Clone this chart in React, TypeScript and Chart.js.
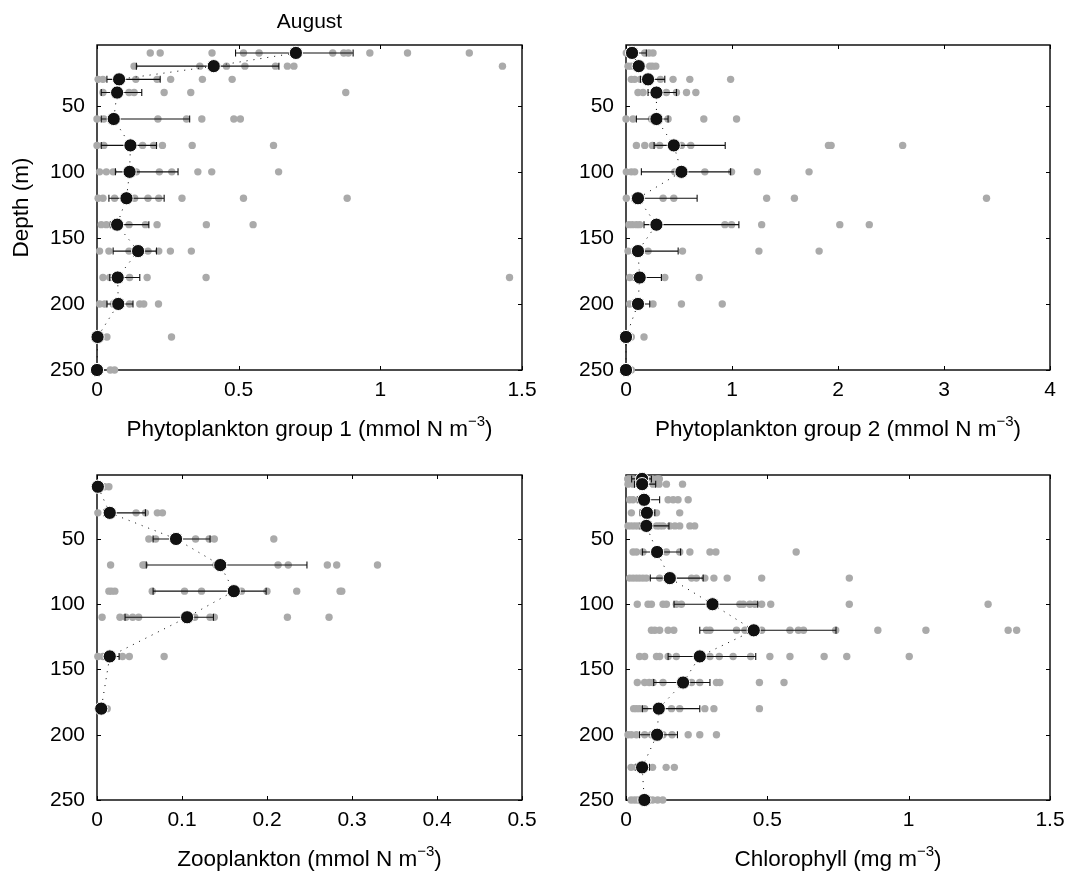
import React, { useEffect, useRef } from 'react';
import { Chart, registerables } from 'chart.js';

Chart.register(...registerables);

const FONT = "'Liberation Sans', Arial, Helvetica, sans-serif";
const PAGE_W = 1071;
const PAGE_H = 875;

// ---------- shared depth axis ----------
const depthTicks = [50, 100, 150, 200, 250];
const depthTickLabels = ['50', '100', '150', '200', '250'];

// ---------- Panel 1: Phytoplankton group 1 ----------
const depths1 = [10, 20, 30, 40, 60, 80, 100, 120, 140, 160, 180, 200, 225, 250];
const mean1 = [0.702, 0.412, 0.078, 0.071, 0.059, 0.118, 0.115, 0.104, 0.071, 0.145, 0.073, 0.075, 0.002, 0.0];
const lo1 = [0.489, 0.139, 0.035, 0.015, 0.015, 0.015, 0.065, 0.042, 0.047, 0.057, 0.045, 0.035, null, null];
const hi1 = [0.904, 0.642, 0.223, 0.158, 0.327, 0.210, 0.286, 0.237, 0.183, 0.210, 0.151, 0.127, null, null];
const samples1 = [
  [0.188, 0.223, 0.406, 0.517, 0.572, 0.832, 0.871, 0.887, 0.963, 1.096, 1.314],
  [0.131, 0.363, 0.457, 0.522, 0.630, 0.672, 0.695, 1.431],
  [0.004, 0.021, 0.137, 0.212, 0.260, 0.372, 0.477],
  [0.021, 0.113, 0.131, 0.237, 0.331, 0.878],
  [0.0, 0.024, 0.215, 0.316, 0.370, 0.483, 0.506],
  [0.0, 0.024, 0.161, 0.200, 0.231, 0.336, 0.623],
  [0.009, 0.033, 0.057, 0.139, 0.220, 0.264, 0.356, 0.405, 0.641],
  [0.004, 0.021, 0.062, 0.133, 0.180, 0.218, 0.300, 0.517, 0.883],
  [0.015, 0.033, 0.113, 0.171, 0.212, 0.386, 0.551],
  [0.009, 0.042, 0.113, 0.180, 0.218, 0.259, 0.333],
  [0.021, 0.045, 0.115, 0.177, 0.385, 1.456],
  [0.009, 0.027, 0.057, 0.115, 0.151, 0.165, 0.217],
  [0.035, 0.263],
  [0.047, 0.062],
];
const xTicks1 = [0, 0.5, 1, 1.5];
const xTickLabels1 = ['0', '0.5', '1', '1.5'];

// ---------- Panel 2: Phytoplankton group 2 ----------
const depths2 = [10, 20, 30, 40, 60, 80, 100, 120, 140, 160, 180, 200, 225, 250];
const mean2 = [0.057, 0.120, 0.208, 0.287, 0.287, 0.451, 0.523, 0.113, 0.287, 0.113, 0.129, 0.113, 0.0, 0.0];
const lo2 = [0.03, 0.09, 0.136, 0.208, 0.098, 0.265, 0.145, 0.06, 0.170, 0.06, 0.07, 0.07, null, null];
const hi2 = [0.192, 0.15, 0.366, 0.476, 0.397, 0.936, 0.987, 0.671, 1.065, 0.492, 0.334, 0.224, null, null];
const samples2 = [
  [0.003, 0.035, 0.177, 0.217, 0.255],
  [0.019, 0.050, 0.224, 0.249, 0.281],
  [0.050, 0.082, 0.136, 0.325, 0.444, 0.602, 0.987],
  [0.113, 0.161, 0.381, 0.476, 0.571, 0.659],
  [0.0, 0.066, 0.240, 0.397, 0.734, 1.043],
  [0.098, 0.177, 0.249, 0.318, 0.523, 0.611, 1.910, 1.935, 2.610],
  [0.003, 0.050, 0.082, 0.460, 0.744, 0.996, 1.239, 1.727],
  [0.003, 0.350, 0.451, 1.327, 1.589, 3.401],
  [0.028, 0.060, 0.098, 0.129, 0.933, 0.996, 1.280, 2.017, 2.295],
  [0.019, 0.208, 0.533, 1.254, 1.822],
  [0.035, 0.366, 0.690],
  [0.035, 0.255, 0.523, 0.908],
  [0.050, 0.170],
  [0.05],
];
const xTicks2 = [0, 1, 2, 3, 4];
const xTickLabels2 = ['0', '1', '2', '3', '4'];

// ---------- Panel 3: Zooplankton ----------
const depths3 = [10, 30, 50, 70, 90, 110, 140, 180];
const mean3 = [0.001, 0.015, 0.093, 0.145, 0.161, 0.106, 0.015, 0.005];
const lo3 = [null, 0.008, 0.066, 0.058, 0.066, 0.033, 0.008, null];
const hi3 = [null, 0.057, 0.133, 0.247, 0.199, 0.137, 0.026, null];
const samples3 = [
  [0.009, 0.014],
  [0.001, 0.046, 0.057, 0.071, 0.077],
  [0.061, 0.069, 0.116, 0.132, 0.138, 0.208],
  [0.016, 0.054, 0.056, 0.140, 0.213, 0.225, 0.271, 0.282, 0.330],
  [0.014, 0.017, 0.021, 0.065, 0.103, 0.123, 0.170, 0.200, 0.235, 0.286, 0.288],
  [0.006, 0.027, 0.034, 0.042, 0.049, 0.115, 0.133, 0.138, 0.224, 0.273],
  [0.001, 0.007, 0.030, 0.038, 0.079],
  [0.012],
];
const xTicks3 = [0, 0.1, 0.2, 0.3, 0.4, 0.5];
const xTickLabels3 = ['0', '0.1', '0.2', '0.3', '0.4', '0.5'];

// ---------- Panel 4: Chlorophyll ----------
const depths4 = [4, 8, 20, 30, 40, 60, 80, 100, 120, 140, 160, 180, 200, 225, 250];
const mean4 = [0.057, 0.057, 0.064, 0.074, 0.072, 0.110, 0.155, 0.306, 0.452, 0.261, 0.202, 0.116, 0.110, 0.057, 0.065];
const lo4 = [0.02, 0.03, 0.04, 0.05, 0.05, 0.058, 0.086, 0.170, 0.261, 0.149, 0.098, 0.058, 0.048, 0.035, 0.045];
const hi4 = [0.09, 0.105, 0.119, 0.102, 0.152, 0.193, 0.273, 0.466, 0.743, 0.459, 0.297, 0.261, 0.182, 0.083, 0.085];
const samples4 = [
  [0.006, 0.015, 0.024, 0.094, 0.11, 0.118],
  [0.007, 0.025, 0.096, 0.117, 0.143, 0.200],
  [0.013, 0.025, 0.072, 0.149, 0.167, 0.184, 0.220],
  [0.019, 0.060, 0.108, 0.190],
  [0.007, 0.019, 0.031, 0.043, 0.060, 0.108, 0.119, 0.131, 0.155, 0.173, 0.190, 0.226, 0.243],
  [0.025, 0.037, 0.060, 0.143, 0.190, 0.226, 0.297, 0.318, 0.602],
  [0.013, 0.025, 0.037, 0.048, 0.060, 0.072, 0.119, 0.232, 0.249, 0.279, 0.311, 0.358, 0.480, 0.790],
  [0.040, 0.078, 0.090, 0.131, 0.143, 0.178, 0.196, 0.403, 0.415, 0.438, 0.456, 0.480, 0.512, 0.790, 1.281],
  [0.090, 0.102, 0.119, 0.149, 0.169, 0.285, 0.297, 0.391, 0.421, 0.480, 0.580, 0.610, 0.628, 0.742, 0.891, 1.061, 1.352, 1.382],
  [0.048, 0.066, 0.108, 0.119, 0.149, 0.178, 0.297, 0.330, 0.379, 0.441, 0.509, 0.580, 0.701, 0.781, 1.002],
  [0.040, 0.066, 0.082, 0.096, 0.131, 0.232, 0.261, 0.320, 0.332, 0.472, 0.559],
  [0.027, 0.037, 0.048, 0.066, 0.161, 0.190, 0.279, 0.311, 0.472],
  [0.007, 0.019, 0.037, 0.066, 0.090, 0.131, 0.163, 0.220, 0.261, 0.320],
  [0.018, 0.035, 0.094, 0.142, 0.171],
  [0.018, 0.030, 0.041, 0.094, 0.112, 0.130],
];
const xTicks4 = [0, 0.5, 1, 1.5];
const xTickLabels4 = ['0', '0.5', '1', '1.5'];

// ---------- text ----------
const figureTitle = 'August';
const depthTitle = 'Depth (m)';
const xTitle1 = 'Phytoplankton group 1 (mmol N m';
const xTitle2 = 'Phytoplankton group 2 (mmol N m';
const xTitle3 = 'Zooplankton (mmol N m';
const xTitle4 = 'Chlorophyll (mg m';
const unitSup = '\u22123';

type Area = { left: number; right: number; top: number; bottom: number };
type PanelDef = {
  depths: number[];
  means: number[];
  lo: (number | null)[];
  hi: (number | null)[];
  samples: number[][];
  xMax: number;
  xTicks: number[];
  xTickLabels: string[];
  yMin: number;
  xTitle: string;
  title?: string;
  yTitle?: string;
  area: Area;
};

const panels: PanelDef[] = [
  {
    depths: depths1, means: mean1, lo: lo1, hi: hi1, samples: samples1,
    xMax: 1.5, xTicks: xTicks1, xTickLabels: xTickLabels1, yMin: 4,
    xTitle: xTitle1, title: figureTitle, yTitle: depthTitle,
    area: { left: 97, right: 522, top: 45, bottom: 370 },
  },
  {
    depths: depths2, means: mean2, lo: lo2, hi: hi2, samples: samples2,
    xMax: 4, xTicks: xTicks2, xTickLabels: xTickLabels2, yMin: 4,
    xTitle: xTitle2,
    area: { left: 626, right: 1050, top: 45, bottom: 370 },
  },
  {
    depths: depths3, means: mean3, lo: lo3, hi: hi3, samples: samples3,
    xMax: 0.5, xTicks: xTicks3, xTickLabels: xTickLabels3, yMin: 1,
    xTitle: xTitle3,
    area: { left: 97, right: 522, top: 475, bottom: 800 },
  },
  {
    depths: depths4, means: mean4, lo: lo4, hi: hi4, samples: samples4,
    xMax: 1.5, xTicks: xTicks4, xTickLabels: xTickLabels4, yMin: 1,
    xTitle: xTitle4,
    area: { left: 626, right: 1050, top: 475, bottom: 800 },
  },
];

const AXIS_W = 80;
const AXIS_H = 60;

function decoPlugin(p: PanelDef) {
  return {
    id: 'deco',
    beforeDatasetsDraw(chart: any) {
      const { ctx, chartArea: a, scales } = chart;
      const xs = scales.x;
      const ys = scales.y;
      ctx.save();
      ctx.strokeStyle = '#000';
      ctx.lineWidth = 1;
      ctx.beginPath();
      const tl = 4;
      for (const v of p.xTicks) {
        const px = Math.round(xs.getPixelForValue(v)) + 0.5;
        ctx.moveTo(px, a.bottom);
        ctx.lineTo(px, a.bottom - tl);
        ctx.moveTo(px, a.top);
        ctx.lineTo(px, a.top + tl);
      }
      for (const v of depthTicks) {
        const py = Math.round(ys.getPixelForValue(v)) + 0.5;
        ctx.moveTo(a.left, py);
        ctx.lineTo(a.left + tl, py);
        ctx.moveTo(a.right, py);
        ctx.lineTo(a.right - tl, py);
      }
      ctx.stroke();
      ctx.lineWidth = 1.4;
      ctx.strokeRect(a.left, a.top, a.right - a.left, a.bottom - a.top);
      ctx.restore();
    },
    afterDatasetDraw(chart: any, args: any) {
      if (args.index !== 2) return;
      const { ctx, scales } = chart;
      const xs = scales.x;
      const ys = scales.y;
      ctx.save();
      ctx.strokeStyle = '#111';
      ctx.lineWidth = 1.1;
      ctx.beginPath();
      p.depths.forEach((d, i) => {
        const l = p.lo[i];
        const h = p.hi[i];
        if (l == null || h == null) return;
        const py = ys.getPixelForValue(d);
        const x1 = xs.getPixelForValue(l);
        const x2 = xs.getPixelForValue(h);
        ctx.moveTo(x1, py);
        ctx.lineTo(x2, py);
        ctx.moveTo(x1, py - 3.5);
        ctx.lineTo(x1, py + 3.5);
        ctx.moveTo(x2, py - 3.5);
        ctx.lineTo(x2, py + 3.5);
      });
      ctx.stroke();
      ctx.restore();
    },
    afterDraw(chart: any) {
      const { ctx, chartArea: a } = chart;
      ctx.save();
      ctx.fillStyle = '#000';
      const cx = (a.left + a.right) / 2;
      const big = `22.5px ${FONT}`;
      const small = `15px ${FONT}`;
      ctx.font = big;
      const wMain = ctx.measureText(p.xTitle).width;
      const wTail = ctx.measureText(')').width;
      ctx.font = small;
      const wSup = ctx.measureText(unitSup).width;
      const total = wMain + wSup + wTail;
      const base = a.bottom + 66;
      let sx = cx - total / 2;
      ctx.textAlign = 'left';
      ctx.textBaseline = 'alphabetic';
      ctx.font = big;
      ctx.fillText(p.xTitle, sx, base);
      sx += wMain;
      ctx.font = small;
      ctx.fillText(unitSup, sx, base - 10);
      sx += wSup;
      ctx.font = big;
      ctx.fillText(')', sx, base);
      if (p.title) {
        ctx.textAlign = 'center';
        ctx.font = `21px ${FONT}`;
        ctx.fillText(p.title, cx, a.top - 17);
      }
      if (p.yTitle) {
        ctx.translate(22, (a.top + a.bottom) / 2);
        ctx.rotate(-Math.PI / 2);
        ctx.textAlign = 'center';
        ctx.textBaseline = 'middle';
        ctx.font = big;
        ctx.fillText(p.yTitle, 0, 0);
      }
      ctx.restore();
    },
  };
}

function Panel({ p }: { p: PanelDef }) {
  const ref = useRef<HTMLCanvasElement | null>(null);
  useEffect(() => {
    if (!ref.current) return;
    const a = p.area;
    const meanPts = p.depths.map((d, i) => ({ x: p.means[i], y: d }));
    const samplePts: { x: number; y: number }[] = [];
    p.samples.forEach((row, i) => row.forEach((v) => samplePts.push({ x: v, y: p.depths[i] })));
    const chart = new Chart(ref.current, {
      type: 'scatter',
      data: {
        datasets: [
          {
            data: meanPts,
            pointRadius: 6.6,
            pointBackgroundColor: '#111',
            pointBorderColor: '#fff',
            pointBorderWidth: 1,
            clip: false,
          } as any,
          {
            data: meanPts,
            showLine: true,
            borderColor: '#000',
            borderWidth: 1,
            borderDash: [1, 6],
            pointRadius: 0,
            clip: false,
          } as any,
          {
            data: samplePts,
            pointRadius: 3.7,
            pointBackgroundColor: '#aaaaaa',
            pointBorderWidth: 0,
            clip: false,
          } as any,
        ],
      },
      options: {
        animation: false,
        responsive: false,
        devicePixelRatio: 1,
        events: [],
        layout: {
          padding: {
            left: a.left - AXIS_W,
            top: a.top,
            right: PAGE_W - a.right,
            bottom: PAGE_H - a.bottom - AXIS_H,
          },
        },
        plugins: {
          legend: { display: false },
          tooltip: { enabled: false },
          title: { display: false },
        },
        scales: {
          x: {
            type: 'linear',
            position: 'bottom',
            min: 0,
            max: p.xMax,
            grid: { display: false, drawTicks: false },
            border: { display: false },
            ticks: {
              autoSkip: false,
              padding: 8,
              color: '#000',
              font: { size: 21, family: FONT },
              maxRotation: 0,
              callback: (_v: any, i: number) => p.xTickLabels[i],
            },
            afterBuildTicks: (s: any) => {
              s.ticks = p.xTicks.map((v) => ({ value: v }));
            },
            afterFit: (s: any) => {
              s.height = AXIS_H;
              s.paddingLeft = 0;
              s.paddingRight = 0;
            },
          },
          y: {
            type: 'linear',
            position: 'left',
            reverse: true,
            min: p.yMin,
            max: 250,
            grid: { display: false, drawTicks: false },
            border: { display: false },
            ticks: {
              autoSkip: false,
              padding: 12,
              color: '#000',
              font: { size: 21, family: FONT },
              callback: (_v: any, i: number) => depthTickLabels[i],
            },
            afterBuildTicks: (s: any) => {
              s.ticks = depthTicks.map((v) => ({ value: v }));
            },
            afterFit: (s: any) => {
              s.width = AXIS_W;
              s.paddingTop = 0;
              s.paddingBottom = 0;
            },
          },
        },
      } as any,
      plugins: [decoPlugin(p)],
    });
    return () => chart.destroy();
  }, [p]);
  return (
    <canvas
      ref={ref}
      width={PAGE_W}
      height={PAGE_H}
      style={{ position: 'absolute', left: 0, top: 0, width: PAGE_W, height: PAGE_H }}
    />
  );
}

export default function App() {
  return (
    <div style={{ position: 'absolute', left: 0, top: 0, width: PAGE_W, height: PAGE_H, background: '#fff' }}>
      {panels.map((p, i) => (
        <Panel key={i} p={p} />
      ))}
    </div>
  );
}
